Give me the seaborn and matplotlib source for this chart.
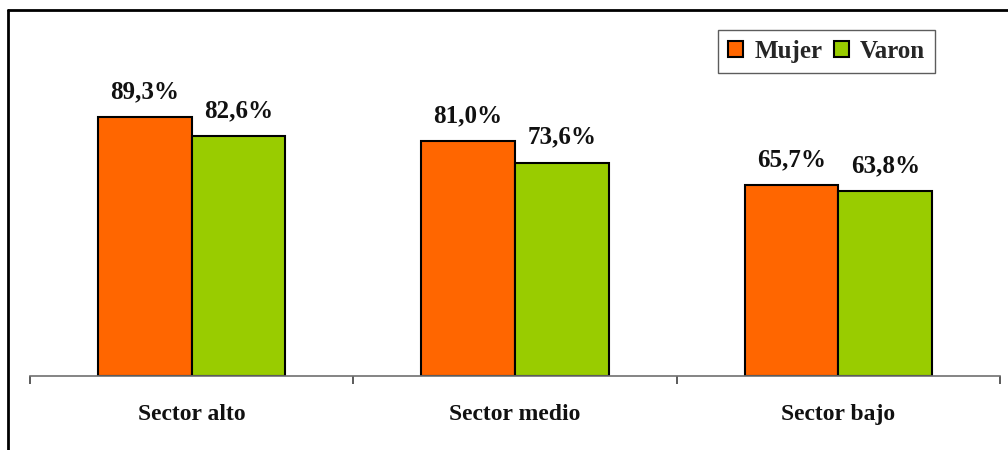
import matplotlib
matplotlib.use("Agg")
import matplotlib.pyplot as plt
from matplotlib.lines import Line2D
from matplotlib.patches import Patch
import seaborn as sns
import pandas as pd

sectores = ["Sector alto", "Sector medio", "Sector bajo"]
mujer = [89.3, 81.0, 65.7]
varon = [82.6, 73.6, 63.8]
grupos = ["Mujer", "Varon"]
colores = ["#FF6600", "#99CC00"]

df = pd.DataFrame({
    "sector": sectores * 2,
    "grupo": [grupos[0]] * 3 + [grupos[1]] * 3,
    "valor": mujer + varon,
})

sns.set_theme(style="white")
plt.rcParams["font.family"] = ["Liberation Serif", "DejaVu Serif"]
plt.rcParams["font.weight"] = "bold"

fig = plt.figure(figsize=(10.08, 4.5), dpi=100)
ax = fig.add_axes([30 / 1008, 74 / 450, 970 / 1008, 290 / 450])

sns.barplot(data=df, x="sector", y="valor", hue="grupo", order=sectores,
            hue_order=grupos, palette=colores, width=0.58, ax=ax,
            edgecolor="black", linewidth=1.5, saturation=1, legend=False)

ax.set_xlim(-0.5, 2.5)
ax.set_ylim(0, 100)
ax.set_xlabel("")
ax.set_ylabel("")
ax.set_yticks([])

for s in ["top", "right", "left"]:
    ax.spines[s].set_visible(False)
ax.spines["bottom"].set_color("#707070")
ax.spines["bottom"].set_linewidth(1.2)

ax.set_xticks([0, 1, 2])
ax.set_xticklabels(sectores, fontsize=17, fontweight="bold")
ax.tick_params(axis="x", which="major", length=0, pad=20, labelcolor="#111111")
ax.set_xticks([-0.5, 0.5, 1.5, 2.5], minor=True)
ax.tick_params(axis="x", which="minor", length=6, width=1.2, color="#404040",
               direction="out", bottom=True)

for cont in ax.containers:
    for bar in cont:
        h = bar.get_height()
        ax.annotate(f"{h:.1f}%".replace(".", ","),
                    (bar.get_x() + bar.get_width() / 2, h),
                    xytext=(0, 13.5), textcoords="offset points",
                    ha="center", va="baseline", fontsize=18,
                    fontweight="bold", color="#111111", annotation_clip=False)

handles = [Patch(facecolor=c, edgecolor="black", linewidth=1.5) for c in colores]
leg = fig.legend(handles, grupos, loc="upper right",
                 bbox_to_anchor=(935 / 1008, 420 / 450), ncol=2,
                 frameon=True, fancybox=False, edgecolor="#333333",
                 prop={"family": "Liberation Serif", "weight": "bold", "size": 18},
                 handlelength=0.6, handleheight=0.6, handletextpad=0.45,
                 columnspacing=0.45, borderpad=0.4, borderaxespad=0)
leg.get_frame().set_linewidth(1.0)

# outer frame (left and top edges)
fig.add_artist(Line2D([8 / 1008, 8 / 1008], [0, 440 / 450], color="black",
                      linewidth=2, transform=fig.transFigure))
fig.add_artist(Line2D([8 / 1008, 1], [440 / 450, 440 / 450], color="black",
                      linewidth=2, transform=fig.transFigure))

fig.savefig("out.png", dpi=100, facecolor="white")
